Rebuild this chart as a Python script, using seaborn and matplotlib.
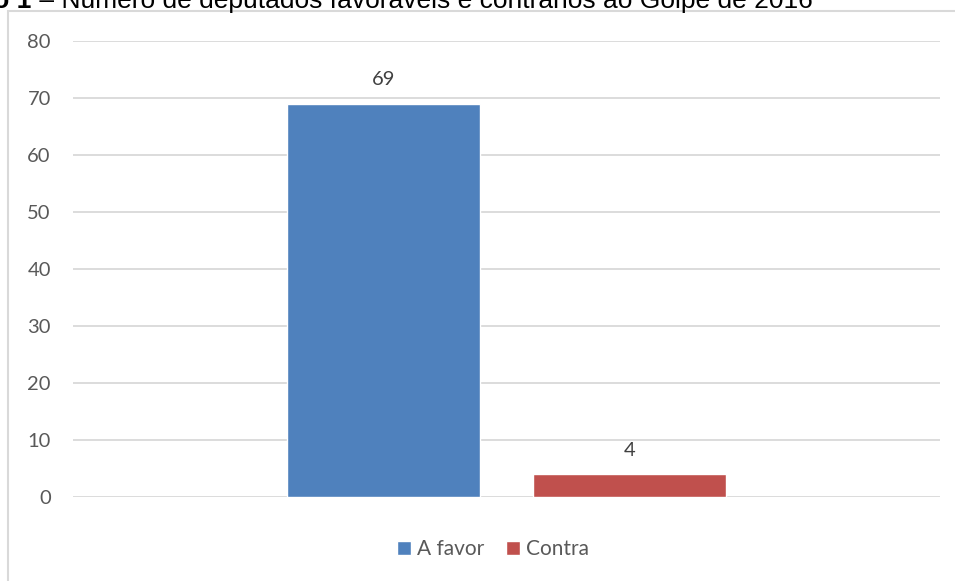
import matplotlib
matplotlib.use("Agg")
import matplotlib.pyplot as plt
import seaborn as sns
import pandas as pd
from matplotlib.patches import Rectangle

# Votes of the deputies
categories = ["Deputados"]
series = ["A favor", "Contra"]
values = [69, 4]
colors = ["#4f81bd", "#c0504d"]
yticks = [0, 10, 20, 30, 40, 50, 60, 70, 80]

sns.set_theme(style="white")
plt.rcParams["font.family"] = ["Lato", "DejaVu Sans"]

df = pd.DataFrame({"grupo": categories * len(series), "voto": series, "n": values})

fig = plt.figure(figsize=(9.55, 5.81), dpi=100)
ax = fig.add_axes([73 / 955, 1 - 497 / 581, (940 - 73) / 955, (497 - 41) / 581])

sns.barplot(data=df, x="grupo", y="n", hue="voto", palette=colors,
            width=0.568, gap=0.216, saturation=1, ax=ax, legend=True)

ax.set_ylim(0, 80)
ax.set_xlim(-0.5, 0.5)
ax.set_yticks(yticks)
ax.set_yticklabels([str(t) for t in yticks])
ax.tick_params(axis="y", length=0, pad=16, labelsize=14.5, labelcolor="#595959")
ax.set_xticks([])
ax.set_xlabel("")
ax.set_ylabel("")
for s in ax.spines.values():
    s.set_visible(False)
ax.yaxis.grid(True, color="#d9d9d9", linewidth=1.3)
ax.set_axisbelow(True)

for cont in ax.containers:
    ax.bar_label(cont, padding=11, fontsize=14.5, color="#404040")

leg = ax.legend(loc="center", bbox_to_anchor=(493 / 955, 1 - 549 / 581),
                bbox_transform=fig.transFigure, ncol=2, frameon=False,
                fontsize=15, handlelength=0.68, handleheight=0.68,
                handletextpad=0.3, columnspacing=1.0, labelcolor="#595959")

# outer chart frame
fig.patches.append(Rectangle((8 / 955, -0.01), 1.0, 1 - 11.5 / 581 + 0.01,
                             transform=fig.transFigure, fill=False,
                             edgecolor="#d9d9d9", linewidth=1.5))

# caption above the frame
cap_y = 1 - 8 / 581
fig.text(31 / 955, cap_y, "Gráfico 1", fontsize=19, fontweight="bold",
         family=["Liberation Sans", "DejaVu Sans"], color="black",
         ha="right", va="baseline")
fig.text(32 / 955, cap_y, " – Número de deputados favoráveis e contrários ao Golpe de 2016",
         fontsize=19, family=["Liberation Sans", "DejaVu Sans"], color="black",
         ha="left", va="baseline")

fig.savefig("out.png", dpi=100)
